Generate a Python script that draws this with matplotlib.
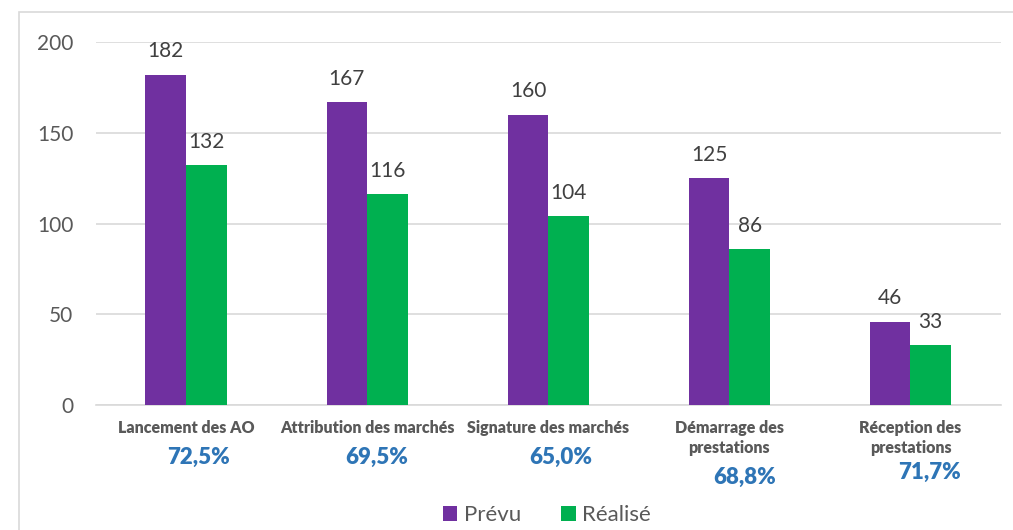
import matplotlib
matplotlib.use("Agg")
import matplotlib.pyplot as plt
import matplotlib.transforms as mtransforms
from matplotlib.patches import Rectangle
import numpy as np

plt.rcParams['font.family'] = ['Lato', 'DejaVu Sans']

categories = ["Lancement des AO", "Attribution des marchés", "Signature des marchés",
              "Démarrage des\nprestations", "Réception des\nprestations"]
prevu = [182, 167, 160, 125, 46]
realise = [132, 116, 104, 86, 33]
taux = ["72,5%", "69,5%", "65,0%", "68,8%", "71,7%"]

# hand placed percent boxes (x shift in category units, y in figure px from top)
pct_dx = [0.07, 0.055, 0.07, 0.085, 0.105]
pct_y = [457, 457, 457, 477, 472]

W, H = 1013, 530
fig = plt.figure(figsize=(W / 100, H / 100), dpi=100)
ax = fig.add_axes([95.5 / W, 1 - 405 / H, (1001 - 95.5) / W, (405 - 42) / H])

purple = "#7030A0"
green = "#00B050"
grey = "#595959"
gridc = "#D9D9D9"

x = np.arange(len(categories))
bw = 0.224
b1 = ax.bar(x - bw / 2, prevu, bw, color=purple, label="Prévu", zorder=3)
b2 = ax.bar(x + bw / 2, realise, bw, color=green, label="Réalisé", zorder=3)

for bars in (b1, b2):
    for r in bars:
        ax.annotate(f"{int(r.get_height())}", (r.get_x() + r.get_width() / 2, r.get_height()),
                    xytext=(0, 12.5), textcoords="offset points", ha="center", va="baseline",
                    fontsize=15, color="#404040")

ax.set_xlim(-0.5, len(categories) - 0.5)
ax.set_ylim(0, 200)
ax.set_yticks([0, 50, 100, 150, 200])
ax.yaxis.grid(True, color=gridc, lw=1.2, zorder=0)
ax.tick_params(axis="y", length=0, pad=16, labelsize=15, labelcolor=grey)
ax.set_xticks(x)
ax.set_xticklabels(categories, fontsize=11.5, fontweight="heavy", color=grey, linespacing=1.3)
ax.tick_params(axis="x", length=0, pad=11)
for s in ("top", "right", "left"):
    ax.spines[s].set_visible(False)
ax.spines["bottom"].set_color(gridc)
ax.spines["bottom"].set_linewidth(1.2)

trans = mtransforms.blended_transform_factory(ax.transData, fig.transFigure)
for i, t in enumerate(taux):
    ax.text(x[i] + pct_dx[i], 1 - pct_y[i] / H, t, transform=trans, ha="center", va="center",
            fontsize=16, fontweight="heavy", color="#2E75B6")

fig.legend(handles=[b1, b2], loc="center", bbox_to_anchor=(547 / W, 1 - 515 / H), ncol=2,
           frameon=False, fontsize=16, labelcolor=grey, handlelength=0.65, handleheight=0.65,
           handletextpad=0.3, columnspacing=1.8)

fig.patches.append(Rectangle((19 / W, -0.1), 1.2, 1 - 12 / H + 0.1, transform=fig.transFigure,
                             fill=False, edgecolor=gridc, lw=1.2, zorder=0))

fig.savefig("out.png", dpi=100)
